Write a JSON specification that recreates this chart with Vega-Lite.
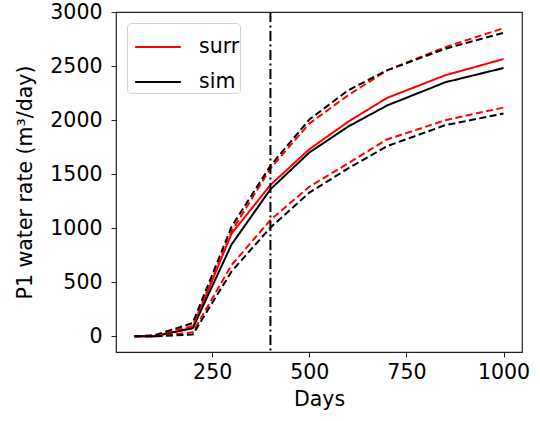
{
  "$schema": "https://vega.github.io/schema/vega-lite/v6.json",
  "autosize": {"type": "none"},
  "width": 406,
  "height": 340,
  "padding": {"left": 116, "top": 12, "right": 18, "bottom": 69},
  "background": "white",
  "config": {
    "font": "DejaVu Sans",
    "view": {"stroke": "#222", "strokeWidth": 1.2},
    "axis": {
      "domain": false,
      "grid": false,
      "tickColor": "#222",
      "tickSize": 5,
      "tickWidth": 1,
      "labelFont": "DejaVu Sans",
      "labelFontSize": 20.5,
      "labelColor": "black",
      "titleFont": "DejaVu Sans",
      "titleFontSize": 20.5,
      "titleFontWeight": "normal",
      "titleColor": "black"
    }
  },
  "datasets": {
    "curves": [
      {"day": 50, "value": 0, "model": "surr", "kind": "mean"},
      {"day": 100, "value": 0, "model": "surr", "kind": "mean"},
      {"day": 200, "value": 80, "model": "surr", "kind": "mean"},
      {"day": 300, "value": 950, "model": "surr", "kind": "mean"},
      {"day": 400, "value": 1400, "model": "surr", "kind": "mean"},
      {"day": 500, "value": 1730, "model": "surr", "kind": "mean"},
      {"day": 600, "value": 1985, "model": "surr", "kind": "mean"},
      {"day": 700, "value": 2205, "model": "surr", "kind": "mean"},
      {"day": 850, "value": 2415, "model": "surr", "kind": "mean"},
      {"day": 1000, "value": 2565, "model": "surr", "kind": "mean"},

      {"day": 50, "value": 0, "model": "sim", "kind": "mean"},
      {"day": 100, "value": 0, "model": "sim", "kind": "mean"},
      {"day": 200, "value": 75, "model": "sim", "kind": "mean"},
      {"day": 300, "value": 850, "model": "sim", "kind": "mean"},
      {"day": 400, "value": 1360, "model": "sim", "kind": "mean"},
      {"day": 500, "value": 1700, "model": "sim", "kind": "mean"},
      {"day": 600, "value": 1940, "model": "sim", "kind": "mean"},
      {"day": 700, "value": 2135, "model": "sim", "kind": "mean"},
      {"day": 850, "value": 2350, "model": "sim", "kind": "mean"},
      {"day": 1000, "value": 2482, "model": "sim", "kind": "mean"},

      {"day": 50, "value": 0, "model": "surr", "kind": "upper"},
      {"day": 100, "value": 5, "model": "surr", "kind": "upper"},
      {"day": 200, "value": 96, "model": "surr", "kind": "upper"},
      {"day": 300, "value": 970, "model": "surr", "kind": "upper"},
      {"day": 400, "value": 1553, "model": "surr", "kind": "upper"},
      {"day": 500, "value": 1968, "model": "surr", "kind": "upper"},
      {"day": 600, "value": 2230, "model": "surr", "kind": "upper"},
      {"day": 700, "value": 2460, "model": "surr", "kind": "upper"},
      {"day": 850, "value": 2675, "model": "surr", "kind": "upper"},
      {"day": 1000, "value": 2850, "model": "surr", "kind": "upper"},

      {"day": 50, "value": 0, "model": "sim", "kind": "upper"},
      {"day": 100, "value": 8, "model": "sim", "kind": "upper"},
      {"day": 200, "value": 123, "model": "sim", "kind": "upper"},
      {"day": 300, "value": 1015, "model": "sim", "kind": "upper"},
      {"day": 400, "value": 1578, "model": "sim", "kind": "upper"},
      {"day": 500, "value": 2005, "model": "sim", "kind": "upper"},
      {"day": 600, "value": 2276, "model": "sim", "kind": "upper"},
      {"day": 700, "value": 2460, "model": "sim", "kind": "upper"},
      {"day": 850, "value": 2660, "model": "sim", "kind": "upper"},
      {"day": 1000, "value": 2808, "model": "sim", "kind": "upper"},

      {"day": 50, "value": 0, "model": "surr", "kind": "lower"},
      {"day": 100, "value": 0, "model": "surr", "kind": "lower"},
      {"day": 200, "value": 37, "model": "surr", "kind": "lower"},
      {"day": 300, "value": 660, "model": "surr", "kind": "lower"},
      {"day": 400, "value": 1076, "model": "surr", "kind": "lower"},
      {"day": 500, "value": 1384, "model": "surr", "kind": "lower"},
      {"day": 600, "value": 1600, "model": "surr", "kind": "lower"},
      {"day": 700, "value": 1821, "model": "surr", "kind": "lower"},
      {"day": 850, "value": 1999, "model": "surr", "kind": "lower"},
      {"day": 1000, "value": 2116, "model": "surr", "kind": "lower"},

      {"day": 50, "value": 0, "model": "sim", "kind": "lower"},
      {"day": 100, "value": 0, "model": "sim", "kind": "lower"},
      {"day": 200, "value": 16, "model": "sim", "kind": "lower"},
      {"day": 300, "value": 600, "model": "sim", "kind": "lower"},
      {"day": 400, "value": 1006, "model": "sim", "kind": "lower"},
      {"day": 500, "value": 1329, "model": "sim", "kind": "lower"},
      {"day": 600, "value": 1553, "model": "sim", "kind": "lower"},
      {"day": 700, "value": 1759, "model": "sim", "kind": "lower"},
      {"day": 850, "value": 1953, "model": "sim", "kind": "lower"},
      {"day": 1000, "value": 2061, "model": "sim", "kind": "lower"}
    ],
    "marker": [{"day": 400}]
  },
  "layer": [
    {
      "data": {"name": "curves"},
      "mark": {"type": "line", "strokeWidth": 2, "clip": true},
      "encoding": {
        "x": {
          "field": "day",
          "type": "quantitative",
          "scale": {"domain": [2.5, 1047.5], "nice": false, "zero": false},
          "axis": {"values": [250, 500, 750, 1000], "format": "d", "title": "Days", "labelPadding": 5, "titlePadding": 7}
        },
        "y": {
          "field": "value",
          "type": "quantitative",
          "scale": {"domain": [-145, 3000], "nice": false, "zero": false},
          "axis": {"values": [0, 500, 1000, 1500, 2000, 2500, 3000], "format": "d", "title": "P1 water rate (m³/day)", "labelPadding": 9, "titlePadding": 14}
        },
        "color": {
          "field": "model",
          "type": "nominal",
          "scale": {"domain": ["surr", "sim"], "range": ["#ff0000", "#000000"]},
          "legend": {
            "title": null,
            "orient": "none",
            "legendX": 11,
            "legendY": 11,
            "symbolType": "stroke",
            "symbolSize": 2090,
            "symbolStrokeWidth": 2,
            "symbolOffset": 7,
            "labelFontSize": 20.5,
            "labelFont": "DejaVu Sans",
            "labelColor": "black",
            "labelOffset": 17,
            "labelExpr": "datum.label + '  '",
            "rowPadding": -4,
            "padding": 0,
            "strokeColor": "#d0d0d0",
            "fillColor": "white",
            "cornerRadius": 4
          }
        },
        "strokeDash": {
          "field": "kind",
          "type": "nominal",
          "scale": {"domain": ["mean", "upper", "lower"], "range": [[1, 0], [7, 3.5], [7, 3.5]]},
          "legend": null
        }
      }
    },
    {
      "data": {"name": "marker"},
      "mark": {"type": "rule", "color": "black", "strokeWidth": 2, "strokeDash": [10, 3.5, 2, 3.5]},
      "encoding": {
        "x": {"field": "day", "type": "quantitative"}
      }
    }
  ]
}
